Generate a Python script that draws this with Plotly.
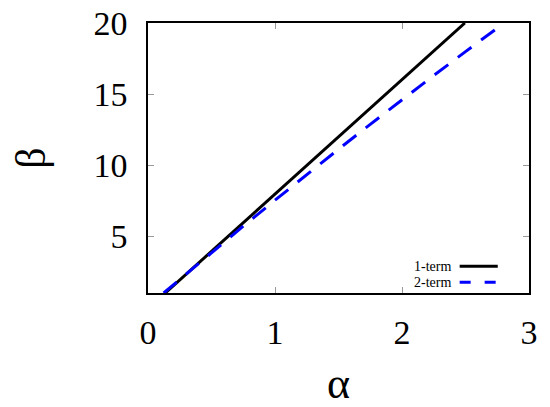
import plotly.graph_objects as go

# Data
alpha_1term = [0.136, 0.5, 1.0, 1.5, 2.0, 2.495]
beta_1term = [1.0, 3.93, 7.96, 11.98, 16.0, 20.0]

alpha_2term = [0.123, 0.25, 0.5, 0.75, 1.0, 1.25, 1.5, 1.75, 2.0, 2.25, 2.5, 2.75, 2.8]
beta_2term = [1.0, 1.965, 3.85, 5.70, 7.53, 9.335, 11.115, 12.87, 14.6, 16.305, 17.985, 19.64, 19.97]

x_ticks = [0, 1, 2, 3]
y_ticks = [5, 10, 15, 20]
legend_names = ["1-term", "2-term"]

FONT = "Liberation Serif"

fig = go.Figure()
fig.add_trace(go.Scatter(x=alpha_1term, y=beta_1term, mode="lines",
                         line=dict(color="black", width=3), name=legend_names[0],
                         showlegend=False))
fig.add_trace(go.Scatter(x=alpha_2term, y=beta_2term, mode="lines",
                         line=dict(color="#0000ff", width=3, dash="17px,12px"),
                         name=legend_names[1], showlegend=False))

# manual legend (text left of sample line, as in reference)
rows_y = [0.099, 0.040]
styles = [dict(color="black", width=3), dict(color="#0000ff", width=3, dash="11px,14px")]
for name, yy, st in zip(legend_names, rows_y, styles):
    fig.add_annotation(x=0.800, y=yy, xref="paper", yref="paper", text=name,
                       showarrow=False, xanchor="right", yanchor="middle",
                       font=dict(family=FONT, size=14, color="black"))
    fig.add_shape(type="line", xref="paper", yref="paper", x0=0.818, x1=0.918,
                  y0=yy, y1=yy, line=st)

axis_common = dict(showline=True, mirror="ticks", linecolor="black", linewidth=1.5,
                   ticks="inside", ticklen=6, tickwidth=1, tickcolor="#999999",
                   showgrid=False, zeroline=False, automargin=False,
                   ticklabeloverflow="allow",
                   tickfont=dict(family=FONT, size=34, color="black"))

fig.update_xaxes(range=[0, 3], tickvals=x_ticks, ticklabelstandoff=8, **axis_common,
                 title=dict(text="α", font=dict(family=FONT, size=44, color="black"),
                            standoff=18))
fig.update_yaxes(range=[1, 20], tickvals=y_ticks, ticklabelstandoff=12, **axis_common,
                 title=dict(text="β", font=dict(family=FONT, size=42, color="black"),
                            standoff=40))

# page body adds an 8px offset; margins compensate so the plot box lands where the reference has it
fig.update_layout(width=550, height=407, margin=dict(l=140, r=29, t=15, b=122),
                  plot_bgcolor="white", paper_bgcolor="white")

fig.write_html("out.html")
